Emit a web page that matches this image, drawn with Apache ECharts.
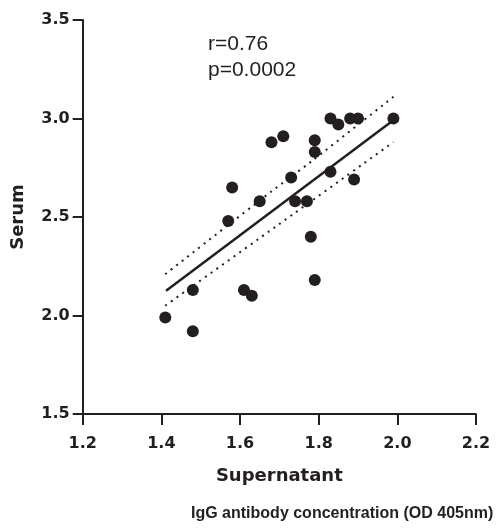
<!DOCTYPE html>
<html>
<head>
<meta charset="utf-8">
<script src="https://cdn.jsdelivr.net/npm/echarts@6/dist/echarts.min.js"></script>
<style>html,body{margin:0;padding:0;background:#fff;}#c{width:499px;height:532px;}</style>
</head>
<body>
<div id="c"></div>
<script>
// Data
const supernatant = [1.41,1.48,1.48,1.57,1.58,1.61,1.63,1.65,1.68,1.71,1.73,1.74,1.77,1.78,1.79,1.79,1.79,1.83,1.83,1.85,1.88,1.89,1.90,1.99];
const serum       = [1.99,1.92,2.13,2.48,2.65,2.13,2.10,2.58,2.88,2.91,2.70,2.58,2.58,2.40,2.89,2.83,2.18,2.73,3.00,2.97,3.00,2.69,3.00,3.00];
const fitX = [1.412, 1.988];
const fitY = [2.126, 2.989];
const upperX = [1.41, 1.68, 1.78, 1.99];
const upperY = [2.21, 2.63, 2.78, 3.11];
const lowerX = [1.41, 1.69, 1.99];
const lowerY = [2.05, 2.45, 2.88];
const xTicks = {min: 1.2, max: 2.2, step: 0.2};
const yTicks = {min: 1.5, max: 3.5, step: 0.5};
const annotation = ['r=0.76', 'p=0.0002'];
const xName = 'Supernatant';
const yName = 'Serum';
const bottomTitle = 'IgG antibody concentration (OD 405nm)';

const ink = '#231f20';
const zip = (a, b) => a.map((v, i) => [v, b[i]]);
const tickFont = {fontFamily: 'DejaVu Sans', fontWeight: 'bold', fontSize: 16, color: ink};

const chart = echarts.init(document.getElementById('c'), null, {renderer: 'canvas'});
chart.setOption({
  animation: false,
  backgroundColor: '#fff',
  grid: {left: 82.7, right: 23, top: 20, bottom: 118, containLabel: false, outerBoundsMode: 'none'},
  xAxis: {
    type: 'value', min: xTicks.min, max: xTicks.max, interval: xTicks.step,
    name: xName, nameLocation: 'middle', nameGap: 53,
    nameTextStyle: {fontFamily: 'DejaVu Sans', fontWeight: 'bold', fontSize: 18, color: ink},
    axisLine: {show: true, onZero: false, lineStyle: {color: ink, width: 2}},
    axisTick: {show: true, length: 11, lineStyle: {color: ink, width: 2}},
    axisLabel: Object.assign({margin: 22, formatter: v => v.toFixed(1)}, tickFont),
    splitLine: {show: false}
  },
  yAxis: {
    type: 'value', min: yTicks.min, max: yTicks.max, interval: yTicks.step,
    name: yName, nameLocation: 'middle', nameGap: 55,
    nameTextStyle: {fontFamily: 'DejaVu Sans', fontWeight: 'bold', fontSize: 18, color: ink},
    axisLine: {show: true, onZero: false, lineStyle: {color: ink, width: 2}},
    axisTick: {show: true, length: 10, lineStyle: {color: ink, width: 2}},
    axisLabel: Object.assign({margin: 13, formatter: v => v.toFixed(1)}, tickFont),
    splitLine: {show: false}
  },
  graphic: [
    {type: 'text', left: 208, top: 31, style: {text: annotation.join('\n'), font: '21px "Liberation Sans"', lineHeight: 26, fill: ink}},
    {type: 'text', left: 191, top: 506, style: {text: bottomTitle, font: 'bold 16px "Liberation Sans"', fill: ink}}
  ],
  series: [
    {type: 'line', data: zip(upperX, upperY), smooth: 0.3, symbol: 'none', silent: true,
     lineStyle: {color: ink, width: 2, type: [2, 5]}},
    {type: 'line', data: zip(lowerX, lowerY), smooth: 0.3, symbol: 'none', silent: true,
     lineStyle: {color: ink, width: 2, type: [2, 5]}},
    {type: 'line', data: zip(fitX, fitY), symbol: 'none', silent: true,
     lineStyle: {color: ink, width: 2.5}},
    {type: 'scatter', data: zip(supernatant, serum), symbol: 'circle', symbolSize: 12,
     itemStyle: {color: ink, opacity: 1}}
  ]
});
</script>
</body>
</html>
